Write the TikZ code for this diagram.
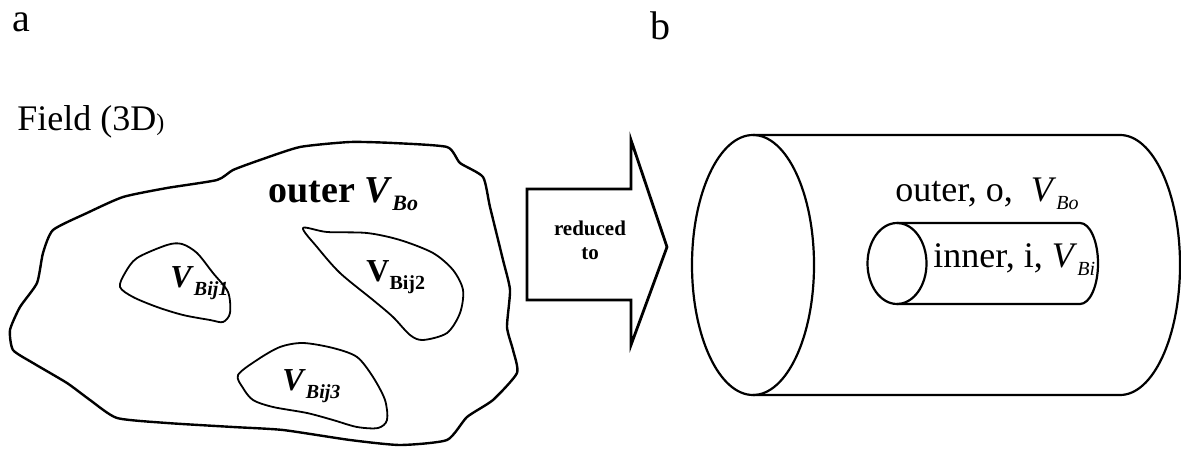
\documentclass[tikz,border=0pt]{standalone}
\usepackage{fontspec}
\setmainfont{Liberation Serif}
\usetikzlibrary{positioning}
\newcommand{\lsub}[2]{\raisebox{-4pt}{\fontsize{#1}{#1}\selectfont #2}}

\begin{document}
\begin{tikzpicture}[
    x=0.5pt, y=-0.5pt,
    lbl/.style={anchor=base west, inner sep=0pt, font=\fontsize{18}{21}\selectfont},
    vb/.style={anchor=base west, inner sep=0pt, font=\fontsize{16}{18}\selectfont\bfseries},
    blob/.style={line width=0.9pt, line join=round},
    rim/.style={line width=1.1pt}
]
    \useasboundingbox (0,0) rectangle (1181,464);

    % panel a
    \node[lbl, font=\fontsize{20}{22}\selectfont] (pa) at (12,32) {a};
    \node[lbl] (field) at (17,131) {Field (3D{\fontsize{12}{12}\selectfont)}};

    \draw[blob, line width=1.2pt] plot[smooth cycle, tension=0.35] coordinates {
        (53,230) (87,213) (123,197) (167,188) (217,180) (233,170) (260,160)
        (300,147) (350,142) (393,143) (447,147) (460,163) (483,177) (490,207)
        (503,260) (510,290) (507,327) (513,350) (517,373) (493,400) (467,417)
        (447,440) (400,445) (350,440) (283,430) (233,427) (167,423) (117,418)
        (90,400) (67,383) (33,363) (13,350) (10,330) (20,307) (37,283) (43,253)};
    \draw[blob] plot[smooth cycle, tension=0.5] coordinates {
        (120,287) (125,273) (137,258) (167,245) (182,244) (197,253) (213,273)
        (228,292) (230,313) (223,322) (210,320) (183,315) (157,307) (133,297)};
    \draw[blob] plot[smooth cycle, tension=0.5] coordinates {
        (303,228) (327,232) (367,233) (400,240) (433,253) (453,270) (463,290)
        (460,313) (447,333) (423,340) (410,335) (393,317) (373,300) (340,273)
        (317,247)};
    \draw[blob] plot[smooth cycle, tension=0.5] coordinates {
        (238,375) (257,360) (280,347) (303,343) (333,348) (357,357) (373,377)
        (385,400) (387,420) (378,428) (357,427) (333,420) (307,413) (273,407)
        (253,400) (243,388)};

    \node[lbl, font=\fontsize{19}{22}\selectfont\bfseries] (outerA) at (268,203)
        {outer \textit{V}\lsub{11}{\textit{Bo}}};
    \node[vb] (vbij1) at (170,288) {\textit{V}\lsub{10}{\textit{Bij1}}};
    \node[vb] (vbij2) at (366,282) {V\lsub{10}{Bij2}};
    \node[vb] (vbij3) at (282,390) {\textit{V}\lsub{10}{\textit{Bij3}}};

    % arrow
    \draw[line width=1.4pt, line join=miter] (527,189) -- (631,189) -- (631,140)
        -- (667,247) -- (631,345) -- (631,300) -- (527,300) -- cycle;
    \node[align=center, inner sep=0pt, font=\fontsize{10.5}{12}\selectfont\bfseries]
        (redu) at (590,240) {reduced\\to};

    % panel b
    \node[lbl, font=\fontsize{20}{22}\selectfont] (pb) at (650,40) {b};

    \draw[rim] (753,265) ellipse [x radius=30.5pt, y radius=65pt];
    \draw[rim] (753,135) -- (1120,135)
        arc[start angle=90, end angle=-90, x radius=30pt, y radius=65pt] -- (753,395);

    \draw[rim] (897,263.5) ellipse [x radius=14.75pt, y radius=20.25pt];
    \draw[rim] (897,223) -- (1080,223)
        arc[start angle=90, end angle=-90, x radius=9pt, y radius=20.25pt] -- (897,304);

    \node[lbl] (outerB) at (895,202) {outer, o,\ \ \textit{V}\lsub{10}{\textit{Bo}}};
    \node[lbl] (innerB) at (933,268) {inner, i, \textit{V}\lsub{10}{\textit{Bi}}};
\end{tikzpicture}
\end{document}
